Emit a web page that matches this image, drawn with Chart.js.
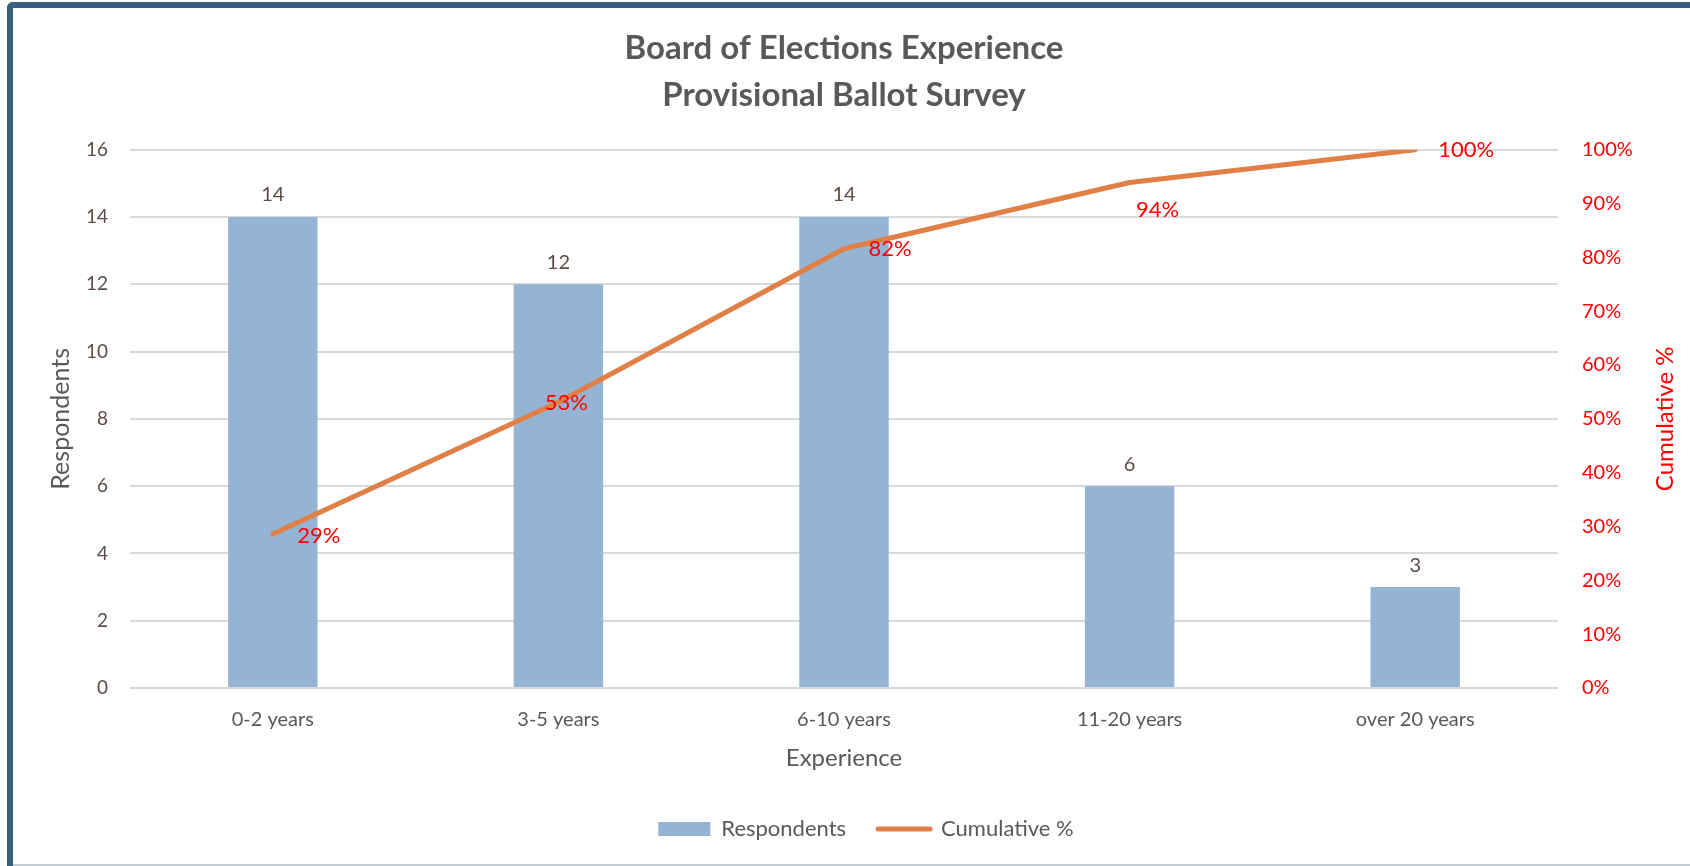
<!DOCTYPE html>
<html>
<head>
<meta charset="utf-8">
<script src="https://cdn.jsdelivr.net/npm/chart.js@4.4.1/dist/chart.umd.min.js"></script>
<style>
  html, body { margin: 0; padding: 0; background: #ffffff; }
  #wrap { position: relative; width: 1690px; height: 866px; overflow: hidden; background: #fff; }
  #chart { position: absolute; left: 0; top: 0; width: 1690px; height: 866px; }
  #frame { position: absolute; left: 7px; top: 2px; width: 1700px; height: 900px;
           border-top: 6px solid #375e7f; border-left: 6px solid #375e7f;
           border-top-left-radius: 6px; pointer-events: none; box-sizing: border-box; }
  #bottomline { position: absolute; left: 13px; right: 0; top: 864px; height: 2px; background: #c5ccd3; }
</style>
</head>
<body>
<div id="wrap">
  <canvas id="chart" width="1690" height="866"></canvas>
  <div id="frame"></div>
  <div id="bottomline"></div>
</div>
<script>
const titleLines = ["Board of Elections Experience", "Provisional Ballot Survey"];
const categories = ["0-2 years", "3-5 years", "6-10 years", "11-20 years", "over 20 years"];
const respondents = [14, 12, 14, 6, 3];
const cumulativePct = [28.6, 53.1, 81.6, 93.9, 100];
const cumulativeLabels = ["29%", "53%", "82%", "94%", "100%"];
const leftTicks = [0, 2, 4, 6, 8, 10, 12, 14, 16];
const rightTicks = [0, 10, 20, 30, 40, 50, 60, 70, 80, 90, 100];
const xTitle = "Experience";
const leftTitle = "Respondents";
const rightTitle = "Cumulative %";

const FONT = "Lato, 'Open Sans', sans-serif";
const GRAY = "#595959";
const NUMGRAY = "#5a4d47";
const RED = "#ff0000";

// label offsets (px) for cumulative labels, relative to the point
const cumLabelOffsets = [[46, 2], [8, 1], [46, 0], [28, 27], [51, 0]];

const labelPlugin = {
  id: 'valueLabels',
  afterDatasetsDraw(chart) {
    const ctx = chart.ctx;
    ctx.save();
    const barMeta = chart.getDatasetMeta(0);
    ctx.font = "20px " + FONT;
    ctx.fillStyle = NUMGRAY;
    ctx.textAlign = 'center';
    ctx.textBaseline = 'middle';
    barMeta.data.forEach((el, i) => {
      ctx.fillText(String(respondents[i]), el.x, el.y - 22);
    });
    const lineMeta = chart.getDatasetMeta(1);
    ctx.font = "22px " + FONT;
    ctx.fillStyle = RED;
    ctx.textAlign = 'center';
    lineMeta.data.forEach((el, i) => {
      const off = cumLabelOffsets[i];
      ctx.fillText(cumulativeLabels[i], el.x + off[0], el.y + off[1]);
    });
    const ys = chart.scales.y1;
    ctx.font = "24px " + FONT;
    ctx.fillStyle = RED;
    ctx.translate(1665, (ys.top + ys.bottom) / 2);
    ctx.rotate(-Math.PI / 2);
    ctx.fillText(rightTitle, 0, 0);
    ctx.restore();
  }
};

new Chart(document.getElementById('chart'), {
  data: {
    labels: categories,
    datasets: [
      {
        type: 'bar',
        label: 'Respondents',
        data: respondents,
        backgroundColor: '#95b3d3',
        borderWidth: 0,
        barPercentage: 1,
        categoryPercentage: 0.313,
        yAxisID: 'y',
        order: 2
      },
      {
        type: 'line',
        label: 'Cumulative %',
        data: cumulativePct,
        borderColor: '#e07f46',
        backgroundColor: '#e07f46',
        borderWidth: 5,
        borderCapStyle: 'round',
        borderJoinStyle: 'round',
        pointRadius: 0,
        tension: 0,
        yAxisID: 'y1',
        order: 1
      }
    ]
  },
  options: {
    responsive: false,
    animation: false,
    layout: { padding: { left: 42, right: 0, top: 0, bottom: 16 } },
    plugins: {
      title: {
        display: true,
        fullSize: false,
        text: titleLines,
        color: GRAY,
        font: { family: FONT, size: 33, weight: 'bold', lineHeight: 1.42 },
        padding: { top: 25, bottom: 31 }
      },
      legend: {
        position: 'bottom',
        labels: {
          color: GRAY,
          font: { family: FONT, size: 22 },
          usePointStyle: true,
          pointStyleWidth: 52,
          boxHeight: 14,
          padding: 32,
          generateLabels(chart) {
            const items = Chart.defaults.plugins.legend.labels.generateLabels(chart);
            items.sort((a, b) => a.datasetIndex - b.datasetIndex);
            items.forEach(it => {
              if (it.datasetIndex === 0) {
                it.pointStyle = 'rect';
                it.lineWidth = 0;
                it.fillStyle = '#95b3d3';
              } else {
                it.pointStyle = 'line';
                it.lineWidth = 5;
                it.lineCap = 'round';
                it.strokeStyle = '#e07f46';
              }
            });
            return items;
          }
        }
      },
      tooltip: { enabled: false }
    },
    scales: {
      x: {
        grid: { display: false, drawTicks: false },
        border: { display: false },
        ticks: { color: GRAY, font: { family: FONT, size: 20 }, padding: 20 },
        title: { display: true, text: xTitle, color: GRAY, font: { family: FONT, size: 24 }, padding: { top: 0, bottom: 13 } },
        afterFit(scale) { scale.height = 98; }
      },
      y: {
        position: 'left',
        min: leftTicks[0],
        max: leftTicks[leftTicks.length - 1],
        afterBuildTicks(scale) { scale.ticks = leftTicks.map(v => ({ value: v })); },
        grid: { color: '#d9d9d9', lineWidth: 2, drawTicks: false },
        border: { display: false },
        ticks: { color: NUMGRAY, font: { family: FONT, size: 19 }, padding: 22 },
        title: { display: true, text: leftTitle, color: GRAY, font: { family: FONT, size: 25 }, padding: { top: 4, bottom: 0 } },
        afterFit(scale) { scale.width = 88; }
      },
      y1: {
        position: 'right',
        min: rightTicks[0],
        max: rightTicks[rightTicks.length - 1],
        afterBuildTicks(scale) { scale.ticks = rightTicks.map(v => ({ value: v })); },
        grid: { display: false, drawTicks: false },
        border: { display: false },
        ticks: { color: RED, font: { family: FONT, size: 20 }, padding: 24, callback: v => v + '%' },
        afterFit(scale) { scale.width = 132; }
      }
    }
  },
  plugins: [labelPlugin]
});
</script>
</body>
</html>
